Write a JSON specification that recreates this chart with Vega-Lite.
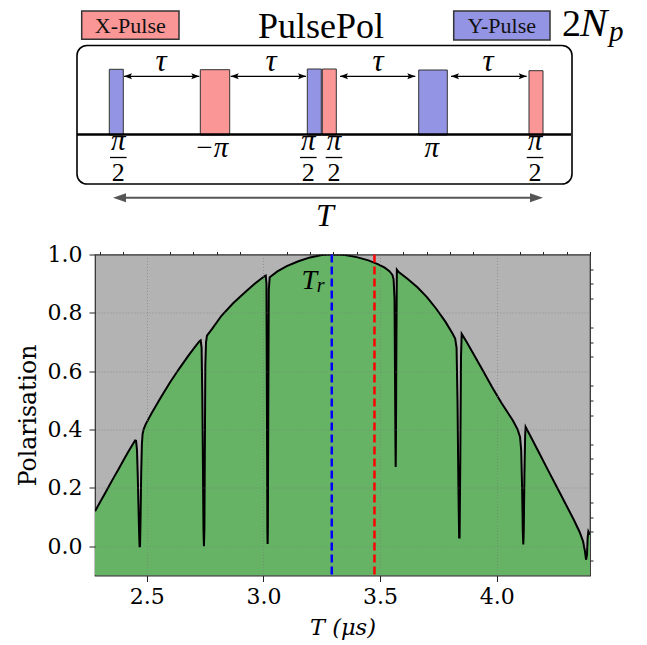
{
  "$schema": "https://vega.github.io/schema/vega-lite/v6.json",
  "padding": {"left": 15, "top": 0, "right": 5, "bottom": 5},
  "spacing": 10.5,
  "config": {"view": {"stroke": null}},
  "datasets": {
    "box": [{"t0": 77, "t1": 572, "v0": 45.5, "v1": 184}],
    "keys": [
      {"kind": "X", "label": "X-Pulse", "t0": 81.7, "t1": 179, "tc": 130.3, "v0": 11, "v1": 39.3, "vb": 32.5},
      {"kind": "Y", "label": "Y-Pulse", "t0": 453.7, "t1": 550, "tc": 501.8, "v0": 11, "v1": 40, "vb": 33}
    ],
    "pulses": [
      {"kind": "Y", "t0": 109.3, "t1": 123.3, "v0": 69.3, "v1": 135},
      {"kind": "X", "t0": 200.3, "t1": 229.7, "v0": 69.7, "v1": 135},
      {"kind": "Y", "t0": 307.3, "t1": 321.3, "v0": 69, "v1": 135},
      {"kind": "X", "t0": 322.3, "t1": 336.3, "v0": 69, "v1": 135},
      {"kind": "Y", "t0": 418.7, "t1": 447.3, "v0": 70, "v1": 135},
      {"kind": "X", "t0": 529, "t1": 543, "v0": 70.7, "v1": 136}
    ],
    "axisline": [{"t0": 77, "t1": 571, "v0": 134.5}],
    "tau": [
      {"t0": 124, "t1": 199.3, "tc": 161, "v0": 76.3, "vl": 71},
      {"t0": 230.7, "t1": 306, "tc": 271, "v0": 76.3, "vl": 71},
      {"t0": 340, "t1": 415.3, "tc": 378, "v0": 76.3, "vl": 71},
      {"t0": 451, "t1": 526.7, "tc": 488, "v0": 76.3, "vl": 71}
    ],
    "heads": [
      {"t0": 124, "dir": "L", "v0": 76.3}, {"t0": 199.3, "dir": "R", "v0": 76.3},
      {"t0": 230.7, "dir": "L", "v0": 76.3}, {"t0": 306, "dir": "R", "v0": 76.3},
      {"t0": 340, "dir": "L", "v0": 76.3}, {"t0": 415.3, "dir": "R", "v0": 76.3},
      {"t0": 451, "dir": "L", "v0": 76.3}, {"t0": 526.7, "dir": "R", "v0": 76.3}
    ],
    "period": [{"t0": 119, "t1": 537, "tc": 325, "v0": 197.7, "vl": 226, "label": "T"}],
    "periodheads": [{"t0": 113, "dir": "TL", "v0": 197.7}, {"t0": 543, "dir": "TR", "v0": 197.7}],
    "fracs": [
      {"tc": 118.3, "t0": 110, "t1": 126.6, "vn": 149.5, "vbar": 157.5, "vd": 181},
      {"tc": 308.3, "t0": 300, "t1": 316.6, "vn": 149.5, "vbar": 157.5, "vd": 181},
      {"tc": 334, "t0": 325.7, "t1": 342.3, "vn": 149.5, "vbar": 157.5, "vd": 181},
      {"tc": 535, "t0": 526.7, "t1": 543.3, "vn": 149.5, "vbar": 157.5, "vd": 181}
    ],
    "singles": [
      {"tc": 211.3, "label": "−π", "v0": 156.5},
      {"tc": 431.7, "label": "π", "v0": 156.5}
    ],
    "curve": [
      {"T": 2.278, "P": 0.120}, {"T": 2.30, "P": 0.152}, {"T": 2.32, "P": 0.180}, {"T": 2.34, "P": 0.209},
      {"T": 2.36, "P": 0.238}, {"T": 2.38, "P": 0.266}, {"T": 2.40, "P": 0.295}, {"T": 2.42, "P": 0.323},
      {"T": 2.44, "P": 0.350}, {"T": 2.450, "P": 0.363}, {"T": 2.454, "P": 0.362}, {"T": 2.458, "P": 0.33},
      {"T": 2.461, "P": 0.25}, {"T": 2.464, "P": 0.15}, {"T": 2.467, "P": 0.05}, {"T": 2.469, "P": 0.0},
      {"T": 2.471, "P": 0.0}, {"T": 2.473, "P": 0.08}, {"T": 2.476, "P": 0.25}, {"T": 2.479, "P": 0.35},
      {"T": 2.482, "P": 0.385}, {"T": 2.487, "P": 0.402}, {"T": 2.495, "P": 0.418}, {"T": 2.52, "P": 0.455},
      {"T": 2.56, "P": 0.510}, {"T": 2.60, "P": 0.562}, {"T": 2.64, "P": 0.610}, {"T": 2.68, "P": 0.655},
      {"T": 2.71, "P": 0.687}, {"T": 2.726, "P": 0.703}, {"T": 2.731, "P": 0.706}, {"T": 2.735, "P": 0.68},
      {"T": 2.738, "P": 0.52}, {"T": 2.741, "P": 0.25}, {"T": 2.743, "P": 0.06}, {"T": 2.745, "P": 0.0},
      {"T": 2.747, "P": 0.06}, {"T": 2.749, "P": 0.35}, {"T": 2.751, "P": 0.62}, {"T": 2.754, "P": 0.70},
      {"T": 2.758, "P": 0.722}, {"T": 2.78, "P": 0.745}, {"T": 2.82, "P": 0.79}, {"T": 2.87, "P": 0.833},
      {"T": 2.92, "P": 0.870}, {"T": 2.96, "P": 0.898}, {"T": 2.99, "P": 0.917}, {"T": 3.005, "P": 0.926},
      {"T": 3.010, "P": 0.928}, {"T": 3.013, "P": 0.90}, {"T": 3.015, "P": 0.50}, {"T": 3.017, "P": 0.05},
      {"T": 3.018, "P": 0.008}, {"T": 3.019, "P": 0.05}, {"T": 3.021, "P": 0.50}, {"T": 3.023, "P": 0.88},
      {"T": 3.027, "P": 0.922}, {"T": 3.06, "P": 0.942}, {"T": 3.10, "P": 0.960}, {"T": 3.15, "P": 0.977},
      {"T": 3.20, "P": 0.990}, {"T": 3.25, "P": 0.998}, {"T": 3.30, "P": 1.0}, {"T": 3.35, "P": 0.998},
      {"T": 3.40, "P": 0.991}, {"T": 3.45, "P": 0.980}, {"T": 3.49, "P": 0.967}, {"T": 3.52, "P": 0.955},
      {"T": 3.54, "P": 0.943}, {"T": 3.553, "P": 0.930}, {"T": 3.558, "P": 0.915}, {"T": 3.562, "P": 0.85},
      {"T": 3.564, "P": 0.60}, {"T": 3.566, "P": 0.35}, {"T": 3.567, "P": 0.272}, {"T": 3.568, "P": 0.35},
      {"T": 3.570, "P": 0.70}, {"T": 3.572, "P": 0.948}, {"T": 3.58, "P": 0.940}, {"T": 3.62, "P": 0.915},
      {"T": 3.66, "P": 0.888}, {"T": 3.70, "P": 0.855}, {"T": 3.74, "P": 0.815}, {"T": 3.78, "P": 0.770},
      {"T": 3.81, "P": 0.730}, {"T": 3.822, "P": 0.712}, {"T": 3.828, "P": 0.68}, {"T": 3.832, "P": 0.50},
      {"T": 3.836, "P": 0.20}, {"T": 3.839, "P": 0.03}, {"T": 3.841, "P": 0.03}, {"T": 3.844, "P": 0.30},
      {"T": 3.847, "P": 0.65}, {"T": 3.850, "P": 0.728}, {"T": 3.87, "P": 0.702}, {"T": 3.90, "P": 0.660},
      {"T": 3.94, "P": 0.603}, {"T": 3.98, "P": 0.546}, {"T": 4.02, "P": 0.492}, {"T": 4.05, "P": 0.455},
      {"T": 4.07, "P": 0.430}, {"T": 4.09, "P": 0.400}, {"T": 4.10, "P": 0.375}, {"T": 4.105, "P": 0.33},
      {"T": 4.109, "P": 0.20}, {"T": 4.112, "P": 0.05}, {"T": 4.114, "P": 0.006}, {"T": 4.116, "P": 0.05},
      {"T": 4.119, "P": 0.25}, {"T": 4.122, "P": 0.38}, {"T": 4.124, "P": 0.409}, {"T": 4.14, "P": 0.385},
      {"T": 4.18, "P": 0.323}, {"T": 4.22, "P": 0.261}, {"T": 4.26, "P": 0.200}, {"T": 4.30, "P": 0.138},
      {"T": 4.33, "P": 0.092}, {"T": 4.355, "P": 0.050}, {"T": 4.37, "P": 0.018}, {"T": 4.378, "P": -0.015},
      {"T": 4.383, "P": -0.046}, {"T": 4.387, "P": -0.03}, {"T": 4.390, "P": 0.03}, {"T": 4.393, "P": 0.051},
      {"T": 4.40, "P": 0.040}
    ]
  },
  "vconcat": [
    {
      "width": 495,
      "height": 230,
      "view": {"stroke": null, "fill": null},
      "layer": [
        {
          "data": {"name": "box"},
          "mark": {"type": "rect", "filled": false, "color": "black", "strokeWidth": 1.6, "cornerRadius": 10},
          "encoding": {
            "x": {"field": "t0", "type": "quantitative", "scale": {"domain": [95, 590], "nice": false, "zero": false}, "axis": null},
            "x2": {"field": "t1"},
            "y": {"field": "v0", "type": "quantitative", "scale": {"domain": [0, 230], "reverse": true, "nice": false, "zero": false}, "axis": null},
            "y2": {"field": "v1"}
          }
        },
        {
          "data": {"name": "keys"},
          "mark": {"type": "rect", "stroke": "#333333", "strokeWidth": 1.5},
          "encoding": {
            "x": {"field": "t0", "type": "quantitative", "scale": {"domain": [95, 590], "nice": false, "zero": false}, "axis": null},
            "x2": {"field": "t1"},
            "y": {"field": "v0", "type": "quantitative", "scale": {"domain": [0, 230], "reverse": true, "nice": false, "zero": false}, "axis": null},
            "y2": {"field": "v1"},
            "fill": {"field": "kind", "type": "nominal", "scale": {"domain": ["X", "Y"], "range": ["#fa9696", "#9494e4"]}, "legend": null}
          }
        },
        {
          "data": {"name": "keys"},
          "mark": {"type": "text", "font": "Liberation Serif", "fontSize": 22, "align": "center", "baseline": "alphabetic", "color": "#111111"},
          "encoding": {
            "x": {"field": "tc", "type": "quantitative", "scale": {"domain": [95, 590], "nice": false, "zero": false}, "axis": null},
            "y": {"field": "vb", "type": "quantitative", "scale": {"domain": [0, 230], "reverse": true, "nice": false, "zero": false}, "axis": null},
            "text": {"field": "label"}
          }
        },
        {
          "data": {"name": "pulses"},
          "mark": {"type": "rect", "stroke": "#333333", "strokeWidth": 1},
          "encoding": {
            "x": {"field": "t0", "type": "quantitative", "scale": {"domain": [95, 590], "nice": false, "zero": false}, "axis": null},
            "x2": {"field": "t1"},
            "y": {"field": "v0", "type": "quantitative", "scale": {"domain": [0, 230], "reverse": true, "nice": false, "zero": false}, "axis": null},
            "y2": {"field": "v1"},
            "fill": {"field": "kind", "type": "nominal", "scale": {"domain": ["X", "Y"], "range": ["#fa9696", "#9494e4"]}, "legend": null}
          }
        },
        {
          "data": {"name": "axisline"},
          "mark": {"type": "rule", "color": "black", "strokeWidth": 2.5},
          "encoding": {
            "x": {"field": "t0", "type": "quantitative", "scale": {"domain": [95, 590], "nice": false, "zero": false}, "axis": null},
            "x2": {"field": "t1"},
            "y": {"field": "v0", "type": "quantitative", "scale": {"domain": [0, 230], "reverse": true, "nice": false, "zero": false}, "axis": null}
          }
        },
        {
          "data": {"name": "tau"},
          "mark": {"type": "rule", "color": "black", "strokeWidth": 1.3},
          "encoding": {
            "x": {"field": "t0", "type": "quantitative", "scale": {"domain": [95, 590], "nice": false, "zero": false}, "axis": null},
            "x2": {"field": "t1"},
            "y": {"field": "v0", "type": "quantitative", "scale": {"domain": [0, 230], "reverse": true, "nice": false, "zero": false}, "axis": null}
          }
        },
        {
          "data": {"name": "heads"},
          "mark": {"type": "point", "filled": true, "color": "black", "size": 64, "opacity": 1, "strokeWidth": 0},
          "encoding": {
            "x": {"field": "t0", "type": "quantitative", "scale": {"domain": [95, 590], "nice": false, "zero": false}, "axis": null},
            "y": {"field": "v0", "type": "quantitative", "scale": {"domain": [0, 230], "reverse": true, "nice": false, "zero": false}, "axis": null},
            "shape": {"field": "dir", "type": "nominal", "scale": {"domain": ["L", "R", "TL", "TR"], "range": ["M0,0 L2,-0.75 L1.6,0 L2,0.75 Z", "M0,0 L-2,-0.75 L-1.6,0 L-2,0.75 Z", "M0,0 L2,-0.7 L2,0.7 Z", "M0,0 L-2,-0.7 L-2,0.7 Z"]}, "legend": null}
          }
        },
        {
          "data": {"name": "tau"},
          "mark": {"type": "text", "font": "Liberation Serif", "fontStyle": "italic", "fontSize": 31, "align": "center", "baseline": "alphabetic", "color": "black"},
          "encoding": {
            "x": {"field": "tc", "type": "quantitative", "scale": {"domain": [95, 590], "nice": false, "zero": false}, "axis": null},
            "y": {"field": "vl", "type": "quantitative", "scale": {"domain": [0, 230], "reverse": true, "nice": false, "zero": false}, "axis": null},
            "text": {"value": "τ"}
          }
        },
        {
          "data": {"name": "period"},
          "mark": {"type": "rule", "color": "#555555", "strokeWidth": 2},
          "encoding": {
            "x": {"field": "t0", "type": "quantitative", "scale": {"domain": [95, 590], "nice": false, "zero": false}, "axis": null},
            "x2": {"field": "t1"},
            "y": {"field": "v0", "type": "quantitative", "scale": {"domain": [0, 230], "reverse": true, "nice": false, "zero": false}, "axis": null}
          }
        },
        {
          "data": {"name": "periodheads"},
          "mark": {"type": "point", "filled": true, "color": "#555555", "size": 169, "opacity": 1, "strokeWidth": 0},
          "encoding": {
            "x": {"field": "t0", "type": "quantitative", "scale": {"domain": [95, 590], "nice": false, "zero": false}, "axis": null},
            "y": {"field": "v0", "type": "quantitative", "scale": {"domain": [0, 230], "reverse": true, "nice": false, "zero": false}, "axis": null},
            "shape": {"field": "dir", "type": "nominal", "scale": {"domain": ["L", "R", "TL", "TR"], "range": ["M0,0 L2,-0.75 L1.6,0 L2,0.75 Z", "M0,0 L-2,-0.75 L-1.6,0 L-2,0.75 Z", "M0,0 L2,-0.7 L2,0.7 Z", "M0,0 L-2,-0.7 L-2,0.7 Z"]}, "legend": null}
          }
        },
        {
          "data": {"name": "period"},
          "mark": {"type": "text", "font": "Liberation Serif", "fontStyle": "italic", "fontSize": 32, "align": "center", "baseline": "alphabetic", "color": "black"},
          "encoding": {
            "x": {"field": "tc", "type": "quantitative", "scale": {"domain": [95, 590], "nice": false, "zero": false}, "axis": null},
            "y": {"field": "vl", "type": "quantitative", "scale": {"domain": [0, 230], "reverse": true, "nice": false, "zero": false}, "axis": null},
            "text": {"field": "label"}
          }
        },
        {
          "data": {"name": "fracs"},
          "mark": {"type": "text", "font": "Liberation Serif", "fontStyle": "italic", "fontSize": 29, "align": "center", "baseline": "alphabetic", "color": "black"},
          "encoding": {
            "x": {"field": "tc", "type": "quantitative", "scale": {"domain": [95, 590], "nice": false, "zero": false}, "axis": null},
            "y": {"field": "vn", "type": "quantitative", "scale": {"domain": [0, 230], "reverse": true, "nice": false, "zero": false}, "axis": null},
            "text": {"value": "π"}
          }
        },
        {
          "data": {"name": "fracs"},
          "mark": {"type": "rule", "color": "black", "strokeWidth": 1.3},
          "encoding": {
            "x": {"field": "t0", "type": "quantitative", "scale": {"domain": [95, 590], "nice": false, "zero": false}, "axis": null},
            "x2": {"field": "t1"},
            "y": {"field": "vbar", "type": "quantitative", "scale": {"domain": [0, 230], "reverse": true, "nice": false, "zero": false}, "axis": null}
          }
        },
        {
          "data": {"name": "fracs"},
          "mark": {"type": "text", "font": "Liberation Serif", "fontSize": 26, "align": "center", "baseline": "alphabetic", "color": "black"},
          "encoding": {
            "x": {"field": "tc", "type": "quantitative", "scale": {"domain": [95, 590], "nice": false, "zero": false}, "axis": null},
            "y": {"field": "vd", "type": "quantitative", "scale": {"domain": [0, 230], "reverse": true, "nice": false, "zero": false}, "axis": null},
            "text": {"value": "2"}
          }
        },
        {
          "data": {"name": "singles"},
          "mark": {"type": "text", "font": "Liberation Serif", "fontStyle": "italic", "fontSize": 29, "align": "center", "baseline": "alphabetic", "color": "black"},
          "encoding": {
            "x": {"field": "tc", "type": "quantitative", "scale": {"domain": [95, 590], "nice": false, "zero": false}, "axis": null},
            "y": {"field": "v0", "type": "quantitative", "scale": {"domain": [0, 230], "reverse": true, "nice": false, "zero": false}, "axis": null},
            "text": {"field": "label"}
          }
        },
        {
          "data": {"values": [{"tc": 321, "v0": 37.5, "label": "PulsePol"}]},
          "mark": {"type": "text", "font": "Liberation Serif", "fontSize": 36, "align": "center", "baseline": "alphabetic", "color": "black"},
          "encoding": {
            "x": {"field": "tc", "type": "quantitative", "scale": {"domain": [95, 590], "nice": false, "zero": false}, "axis": null},
            "y": {"field": "v0", "type": "quantitative", "scale": {"domain": [0, 230], "reverse": true, "nice": false, "zero": false}, "axis": null},
            "text": {"field": "label"}
          }
        },
        {
          "data": {"values": [{"tc": 562, "v0": 35.5, "label": "2"}]},
          "mark": {"type": "text", "font": "Liberation Serif", "fontSize": 38, "align": "left", "baseline": "alphabetic", "color": "black"},
          "encoding": {
            "x": {"field": "tc", "type": "quantitative", "scale": {"domain": [95, 590], "nice": false, "zero": false}, "axis": null},
            "y": {"field": "v0", "type": "quantitative", "scale": {"domain": [0, 230], "reverse": true, "nice": false, "zero": false}, "axis": null},
            "text": {"field": "label"}
          }
        },
        {
          "data": {"values": [{"tc": 580, "v0": 35.5, "label": "N"}]},
          "mark": {"type": "text", "font": "Liberation Serif", "fontStyle": "italic", "fontSize": 41, "align": "left", "baseline": "alphabetic", "color": "black"},
          "encoding": {
            "x": {"field": "tc", "type": "quantitative", "scale": {"domain": [95, 590], "nice": false, "zero": false}, "axis": null},
            "y": {"field": "v0", "type": "quantitative", "scale": {"domain": [0, 230], "reverse": true, "nice": false, "zero": false}, "axis": null},
            "text": {"field": "label"}
          }
        },
        {
          "data": {"values": [{"tc": 609, "v0": 41, "label": "p"}]},
          "mark": {"type": "text", "font": "Liberation Serif", "fontStyle": "italic", "fontSize": 29, "align": "left", "baseline": "alphabetic", "color": "black"},
          "encoding": {
            "x": {"field": "tc", "type": "quantitative", "scale": {"domain": [95, 590], "nice": false, "zero": false}, "axis": null},
            "y": {"field": "v0", "type": "quantitative", "scale": {"domain": [0, 230], "reverse": true, "nice": false, "zero": false}, "axis": null},
            "text": {"field": "label"}
          }
        }
      ]
    },
    {
      "width": 495,
      "height": 321,
      "view": {"fill": "#b3b3b3", "stroke": "#2b2b2b", "strokeWidth": 1.2},
      "resolve": {"axis": {"x": "independent", "y": "independent"}},
      "layer": [
        {
          "data": {"name": "curve"},
          "mark": {"type": "area", "color": "#66b366", "clip": true},
          "encoding": {
            "x": {
              "field": "T", "type": "quantitative",
              "scale": {"domain": [2.278, 4.4], "nice": false, "zero": false},
              "axis": {"values": [2.5, 3.0, 3.5, 4.0], "format": ".1f", "domain": false, "tickSize": 6, "tickColor": "#222222", "tickWidth": 1,
                       "labelFont": "DejaVu Serif", "labelFontSize": 22, "labelColor": "black", "labelPadding": 5,
                       "grid": true, "gridColor": "#7a7a7a", "gridOpacity": 0.6, "gridDash": [1, 2], "gridWidth": 1,
                       "title": "T (μs)", "titleFont": "DejaVu Serif", "titleFontStyle": "italic", "titleFontWeight": "normal", "titleFontSize": 22.5, "titleColor": "black", "titlePadding": 9, "zindex": 1}
            },
            "y": {
              "field": "P", "type": "quantitative",
              "scale": {"domain": [-0.1, 1.0], "nice": false, "zero": false},
              "axis": {"values": [0, 0.2, 0.4, 0.6, 0.8, 1.0], "format": ".1f", "domain": false, "tickSize": 6, "tickColor": "#222222", "tickWidth": 1,
                       "labelFont": "DejaVu Serif", "labelFontSize": 22, "labelColor": "black", "labelPadding": 7,
                       "grid": true, "gridColor": "#7a7a7a", "gridOpacity": 0.6, "gridDash": [1, 2], "gridWidth": 1,
                       "title": "Polarisation", "titleFont": "DejaVu Serif", "titleFontWeight": "normal", "titleFontSize": 23.5, "titleColor": "black", "titlePadding": 7, "zindex": 1}
            },
            "y2": {"datum": -0.1}
          }
        },
        {
          "data": {"name": "curve"},
          "mark": {"type": "line", "color": "black", "strokeWidth": 2, "clip": true},
          "encoding": {
            "x": {
              "field": "T", "type": "quantitative",
              "scale": {"domain": [2.278, 4.4], "nice": false, "zero": false},
              "axis": {"values": [2.3, 2.4, 2.6, 2.7, 2.8, 2.9, 3.1, 3.2, 3.3, 3.4, 3.6, 3.7, 3.8, 3.9, 4.1, 4.2, 4.3, 4.4], "labels": false, "domain": false, "grid": false, "tickSize": 3, "tickColor": "#222222", "tickWidth": 1, "title": null}
            },
            "y": {
              "field": "P", "type": "quantitative",
              "scale": {"domain": [-0.1, 1.0], "nice": false, "zero": false},
              "axis": {"values": [-0.05, 0.05, 0.1, 0.15, 0.25, 0.3, 0.35, 0.45, 0.5, 0.55, 0.65, 0.7, 0.75, 0.85, 0.9, 0.95], "labels": false, "domain": false, "grid": false, "tickSize": 3, "tickColor": "#222222", "tickWidth": 1, "title": null}
            }
          }
        },
        {
          "data": {"values": [{"T": 3.293}]},
          "mark": {"type": "rule", "color": "#0000ff", "strokeWidth": 2.5, "strokeDash": [8, 4]},
          "encoding": {
            "x": {"field": "T", "type": "quantitative", "scale": {"domain": [2.278, 4.4], "nice": false, "zero": false}, "axis": null}
          }
        },
        {
          "data": {"values": [{"T": 3.476}]},
          "mark": {"type": "rule", "color": "#ff0000", "strokeWidth": 2.5, "strokeDash": [8, 4]},
          "encoding": {
            "x": {"field": "T", "type": "quantitative", "scale": {"domain": [2.278, 4.4], "nice": false, "zero": false}, "axis": null}
          }
        },
        {
          "data": {"values": [{"T": 3.163, "P": 0.883, "label": "T"}]},
          "mark": {"type": "text", "font": "Liberation Serif", "fontStyle": "italic", "fontSize": 28, "align": "left", "baseline": "alphabetic", "color": "black"},
          "encoding": {
            "x": {"field": "T", "type": "quantitative", "scale": {"domain": [2.278, 4.4], "nice": false, "zero": false}, "axis": null},
            "y": {"field": "P", "type": "quantitative", "scale": {"domain": [-0.1, 1.0], "nice": false, "zero": false}, "axis": null},
            "text": {"field": "label"}
          }
        },
        {
          "data": {"values": [{"T": 3.229, "P": 0.871, "label": "r"}]},
          "mark": {"type": "text", "font": "Liberation Serif", "fontStyle": "italic", "fontSize": 20, "align": "left", "baseline": "alphabetic", "color": "black"},
          "encoding": {
            "x": {"field": "T", "type": "quantitative", "scale": {"domain": [2.278, 4.4], "nice": false, "zero": false}, "axis": null},
            "y": {"field": "P", "type": "quantitative", "scale": {"domain": [-0.1, 1.0], "nice": false, "zero": false}, "axis": null},
            "text": {"field": "label"}
          }
        }
      ]
    }
  ]
}
